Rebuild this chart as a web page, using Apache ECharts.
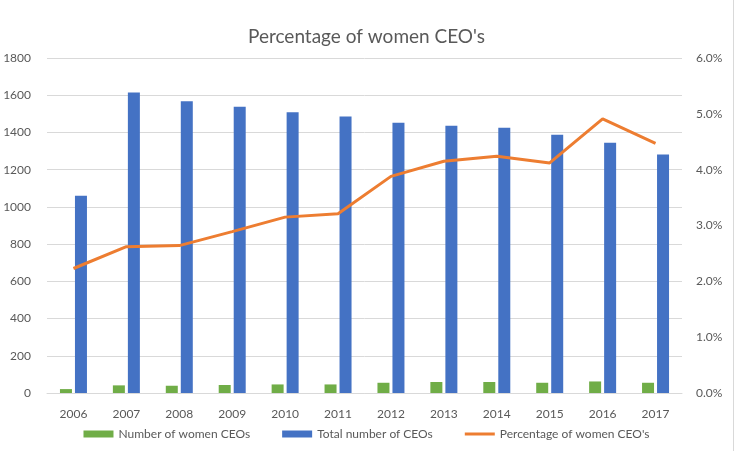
<!DOCTYPE html>
<html>
<head>
<meta charset="utf-8">
<title>Percentage of women CEO's</title>
<script src="https://cdn.jsdelivr.net/npm/echarts@6/dist/echarts.min.js"></script>
<style>
  html, body { margin: 0; padding: 0; background: #fff; }
  #chart { width: 734px; height: 451px; box-sizing: border-box; border-right: 1px solid #d9d9d9; }
</style>
</head>
<body>
<div id="chart"></div>
<script>
// chart data
var years = ['2006', '2007', '2008', '2009', '2010', '2011', '2012', '2013', '2014', '2015', '2016', '2017']
var womenCeos = [21, 41, 39, 43, 46, 46, 55, 59, 59, 55, 62, 55]
var totalCeos = [1060, 1615, 1567, 1538, 1508, 1486, 1452, 1436, 1425, 1388, 1345, 1282]
var pctWomen = [2.23, 2.62, 2.64, 2.89, 3.15, 3.21, 3.88, 4.15, 4.24, 4.12, 4.91, 4.47]

var textColor = '#595959'
var fontName = 'Lato, "Open Sans", sans-serif'

var chart = echarts.init(document.getElementById('chart'))
chart.setOption({
  animation: false,
  textStyle: { fontFamily: fontName },
  title: {
    text: "Percentage of women CEO's",
    left: 'center',
    top: 22,
    textStyle: { color: textColor, fontSize: 19, fontWeight: 'normal', fontFamily: fontName }
  },
  grid: {
    left: 47,
    right: 51,
    top: 58,
    bottom: 58
  },
  legend: {
    bottom: 6,
    left: 'center',
    itemWidth: 30,
    itemHeight: 7,
    itemGap: 32,
    textStyle: { color: textColor, fontSize: 12, fontFamily: fontName },
    data: [
      { name: 'Number of women CEOs', icon: 'rect' },
      { name: 'Total number of CEOs', icon: 'rect' },
      // thin bar centred in the box, the extra moves keep the full box size
      { name: "Percentage of women CEO's", icon: 'path://M0,0 M30,7 M0,2 L30,2 L30,5 L0,5 Z' }
    ]
  },
  xAxis: {
    type: 'category',
    data: years,
    axisTick: { show: false },
    axisLine: { lineStyle: { color: '#d9d9d9' } },
    axisLabel: { color: textColor, fontSize: 12, margin: 15 }
  },
  yAxis: [
    {
      type: 'value',
      min: 0,
      max: 1800,
      interval: 200,
      axisLine: { show: false },
      axisTick: { show: false },
      axisLabel: {
        color: textColor,
        fontSize: 12,
        margin: 16,
        formatter: function (v) { return String(v) }
      },
      splitLine: { lineStyle: { color: '#d9d9d9' } }
    },
    {
      type: 'value',
      min: 0,
      max: 6,
      interval: 1,
      axisLine: { show: false },
      axisTick: { show: false },
      axisLabel: {
        color: textColor,
        fontSize: 12,
        margin: 14,
        formatter: function (v) { return v.toFixed(1) + '%' }
      },
      splitLine: { show: false }
    }
  ],
  series: [
    {
      name: 'Number of women CEOs',
      type: 'bar',
      data: womenCeos,
      barWidth: 12,
      barGap: '25%',
      itemStyle: { color: '#70ad47' }
    },
    {
      name: 'Total number of CEOs',
      type: 'bar',
      data: totalCeos,
      barWidth: 12,
      barGap: '25%',
      itemStyle: { color: '#4472c4' }
    },
    {
      name: "Percentage of women CEO's",
      type: 'line',
      yAxisIndex: 1,
      data: pctWomen,
      symbol: 'none',
      lineStyle: { color: '#ed7d31', width: 3 },
      itemStyle: { color: '#ed7d31' },
      z: 5
    }
  ]
})
</script>
</body>
</html>
